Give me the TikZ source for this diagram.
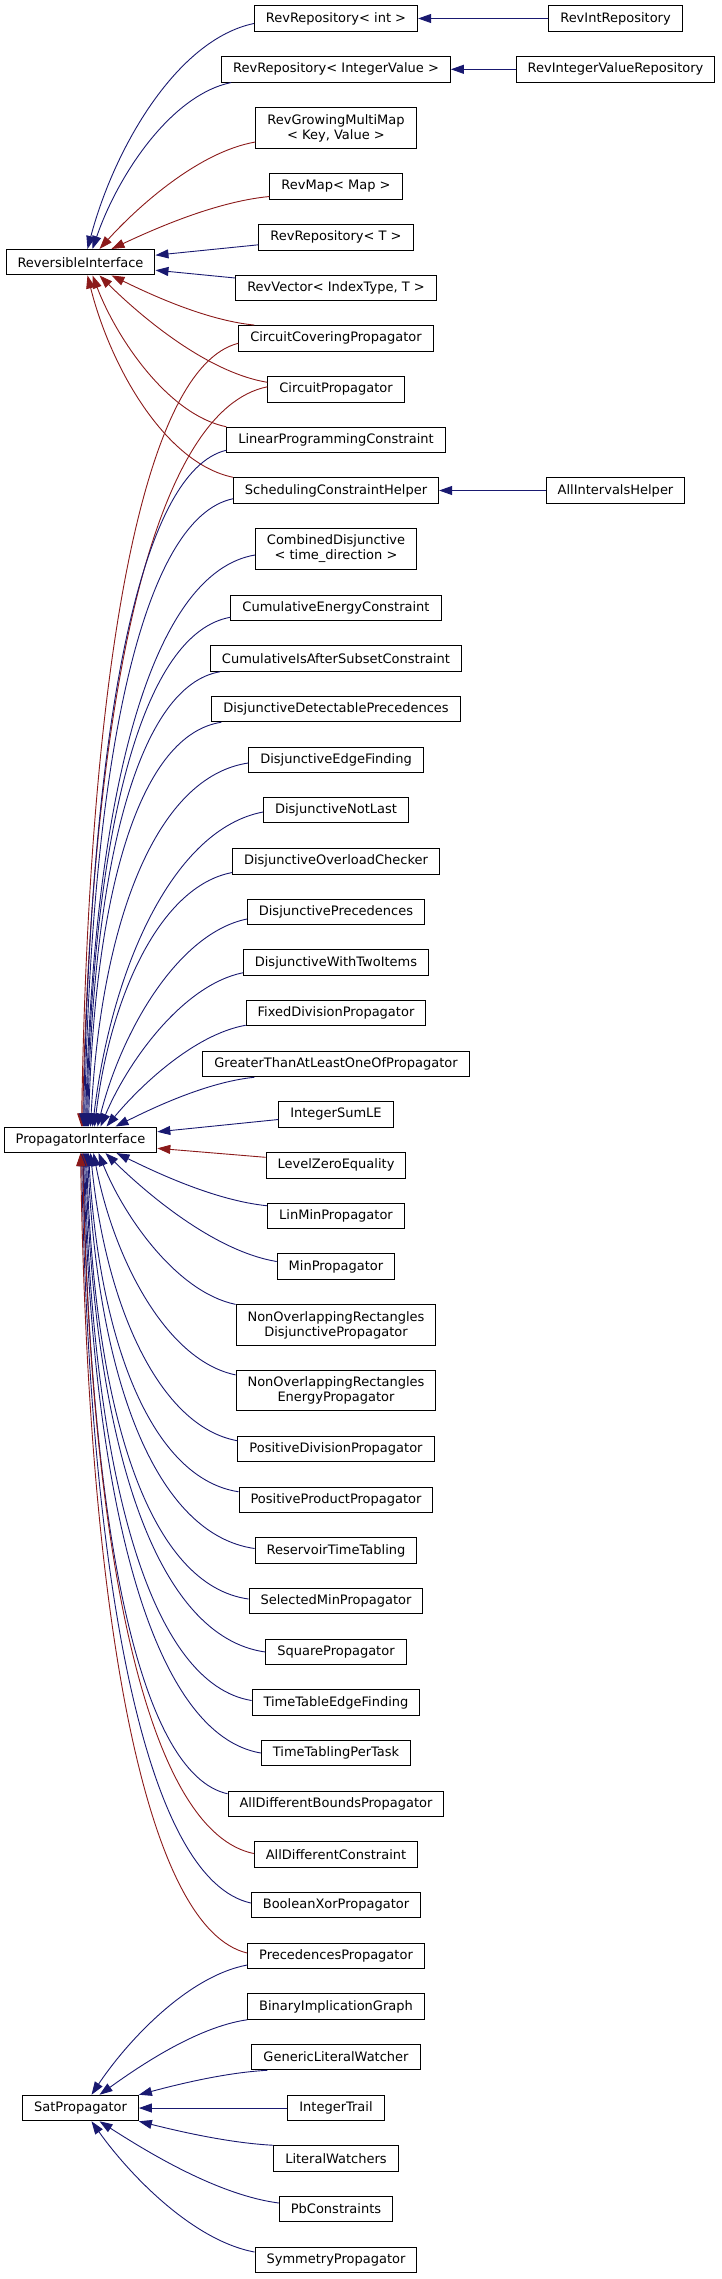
\documentclass[tikz,border=0pt]{standalone}
\usepackage{fontspec}
\setmainfont{DejaVu Sans}
\usetikzlibrary{calc,arrows.meta}
\definecolor{dxblue}{HTML}{191970}
\definecolor{dxred}{HTML}{8B1A1A}
\newcommand\ihe[3]{\draw[#1] let \p1=#2, \p2=#3,
  \n1={max(0,min(1,(abs(\y1-\y2)/(\x1-\x2)-0.5)/2))} in
  (\p1) .. controls ({\x1-(0.35+0.25*\n1)*(\x1-\x2)},{\y1-(0.1-0.07*\n1)*(\y1-\y2)})
  and ({\x2+(0.25-0.2*\n1)*(\x1-\x2)},{\y2+(0.35+0.25*\n1)*(\y1-\y2)}) .. (\p2);}
\begin{document}
\begin{tikzpicture}[x=1pt,y=1pt,
  cls/.style={draw=black, fill=white, line width=1pt, inner xsep=11.5pt, inner ysep=0pt,
    minimum height=25.5pt, font=\fontsize{13}{15}\selectfont, align=center},
  cls2/.style={cls, minimum height=40.3pt},
  inhpub/.style={draw=dxblue, line width=0.9pt, -{Triangle[length=13pt,width=9pt]}},
  inhprot/.style={draw=dxred, line width=0.9pt, -{Triangle[length=13pt,width=9pt]}}]
\useasboundingbox (0,0) rectangle (721,-2279);
% column 1
\node[cls] (ri) at (80.5,-262.2) {ReversibleInterface};
\node[cls] (pi) at (80.5,-1139.8) {PropagatorInterface};
\node[cls] (sat) at (80.5,-2108) {SatPropagator};
% column 2
\node[cls] (r1) at (336,-18.5) {RevRepository< int >};
\node[cls] (r2) at (336,-69.3) {RevRepository< IntegerValue >};
\node[cls2] (r3) at (336,-128) {RevGrowingMultiMap\\< Key, Value >};
\node[cls] (r4) at (336,-186.5) {RevMap< Map >};
\node[cls] (r5) at (336,-237.3) {RevRepository< T >};
\node[cls] (r6) at (336,-288) {RevVector< IndexType, T >};
\node[cls] (r7) at (336,-338.3) {CircuitCoveringPropagator};
\node[cls] (r8) at (336,-389.3) {CircuitPropagator};
\node[cls] (r9) at (336,-440) {LinearProgrammingConstraint};
\node[cls] (r10) at (336,-490.5) {SchedulingConstraintHelper};
\node[cls2] (r11) at (336,-549) {CombinedDisjunctive\\< time\_direction >};
\node[cls] (r12) at (336,-608) {CumulativeEnergyConstraint};
\node[cls] (r13) at (336,-658.5) {CumulativeIsAfterSubsetConstraint};
\node[cls] (r14) at (336,-709) {DisjunctiveDetectablePrecedences};
\node[cls] (r15) at (336,-760) {DisjunctiveEdgeFinding};
\node[cls] (r16) at (336,-810) {DisjunctiveNotLast};
\node[cls] (r17) at (336,-861.3) {DisjunctiveOverloadChecker};
\node[cls] (r18) at (336,-912) {DisjunctivePrecedences};
\node[cls] (r19) at (336,-962.5) {DisjunctiveWithTwoItems};
\node[cls] (r20) at (336,-1013) {FixedDivisionPropagator};
\node[cls] (r21) at (336,-1064) {GreaterThanAtLeastOneOfPropagator};
\node[cls] (r22) at (336,-1114.5) {IntegerSumLE};
\node[cls] (r23) at (336,-1165.3) {LevelZeroEquality};
\node[cls] (r24) at (336,-1216) {LinMinPropagator};
\node[cls] (r25) at (336,-1266.5) {MinPropagator};
\node[cls2] (r26) at (336,-1325) {NonOverlappingRectangles\\DisjunctivePropagator};
\node[cls2] (r27) at (336,-1390.5) {NonOverlappingRectangles\\EnergyPropagator};
\node[cls] (r28) at (336,-1449) {PositiveDivisionPropagator};
\node[cls] (r29) at (336,-1500) {PositiveProductPropagator};
\node[cls] (r30) at (336,-1550.5) {ReservoirTimeTabling};
\node[cls] (r31) at (336,-1601) {SelectedMinPropagator};
\node[cls] (r32) at (336,-1652) {SquarePropagator};
\node[cls] (r33) at (336,-1702.5) {TimeTableEdgeFinding};
\node[cls] (r34) at (336,-1753) {TimeTablingPerTask};
\node[cls] (r35) at (336,-1804) {AllDifferentBoundsPropagator};
\node[cls] (r36) at (336,-1854.5) {AllDifferentConstraint};
\node[cls] (r37) at (336,-1905) {BooleanXorPropagator};
\node[cls] (r38) at (336,-1956) {PrecedencesPropagator};
\node[cls] (r39) at (336,-2006.5) {BinaryImplicationGraph};
\node[cls] (r40) at (336,-2057) {GenericLiteralWatcher};
\node[cls] (r41) at (336,-2108) {IntegerTrail};
\node[cls] (r42) at (336,-2158.5) {LiteralWatchers};
\node[cls] (r43) at (336,-2209) {PbConstraints};
\node[cls] (r44) at (336,-2260) {SymmetryPropagator};
% column 3
\node[cls] (rir) at (615.5,-18.5) {RevIntRepository};
\node[cls] (rivr) at (615.5,-69.3) {RevIntegerValueRepository};
\node[cls] (aih) at (615.5,-490.5) {AllIntervalsHelper};
% column 3 -> column 2
\draw[inhpub] (rir.west) -- (r1.east);
\draw[inhpub] (rivr.west) -- (r2.east);
\draw[inhpub] (aih.west) -- (r10.east);
% -> ReversibleInterface
\ihe{inhpub}{([yshift=-5pt]r1.west)}{([xshift=7pt]ri.north)}
\ihe{inhpub}{([xshift=10pt]r2.south west)}{([xshift=12pt]ri.north)}
\ihe{inhprot}{([yshift=-14pt]r3.west)}{([xshift=19pt]ri.north)}
\ihe{inhprot}{([yshift=-10pt]r4.west)}{([xshift=31pt]ri.north)}
\draw[inhpub] ([yshift=-7.5pt]r5.west) -- ([yshift=7pt]ri.east);
\draw[inhpub] ([yshift=10pt]r6.west) -- ([yshift=-8pt]ri.east);
\ihe{inhprot}{([xshift=16pt]r7.north west)}{([xshift=31pt]ri.south)}
\ihe{inhprot}{([yshift=7pt]r8.west)}{([xshift=19pt]ri.south)}
\ihe{inhprot}{(r9.north west)}{([xshift=12pt]ri.south)}
\ihe{inhprot}{(r10.north west)}{([xshift=7pt]ri.south)}
% -> PropagatorInterface (from above)
\ihe{inhprot}{([yshift=-5pt]r7.west)}{([xshift=1pt]pi.north)}
\ihe{inhprot}{([yshift=2.5pt]r8.west)}{([xshift=2pt]pi.north)}
\ihe{inhpub}{([yshift=3pt]r9.south west)}{([xshift=3pt]pi.north)}
\ihe{inhpub}{([yshift=5pt]r10.south west)}{([xshift=4pt]pi.north)}
\ihe{inhpub}{([yshift=-6pt]r11.west)}{([xshift=5pt]pi.north)}
\ihe{inhpub}{([yshift=4pt]r12.south west)}{([xshift=6pt]pi.north)}
\ihe{inhpub}{([xshift=10pt]r13.south west)}{([xshift=7pt]pi.north)}
\ihe{inhpub}{([xshift=10pt]r14.south west)}{([xshift=8pt]pi.north)}
\ihe{inhpub}{([yshift=-3pt]r15.west)}{([xshift=10pt]pi.north)}
\ihe{inhpub}{([yshift=-2pt]r16.west)}{([xshift=12pt]pi.north)}
\ihe{inhpub}{([yshift=2pt]r17.south west)}{([xshift=14pt]pi.north)}
\ihe{inhpub}{([yshift=-7pt]r18.west)}{([xshift=17pt]pi.north)}
\ihe{inhpub}{([yshift=3pt]r19.south west)}{([xshift=20pt]pi.north)}
\ihe{inhpub}{([yshift=1pt]r20.south west)}{([xshift=26pt]pi.north)}
\ihe{inhpub}{([xshift=52pt]r21.south west)}{([xshift=35pt]pi.north)}
\draw[inhpub] ([yshift=-5pt]r22.west) -- ([yshift=8pt]pi.east);
\draw[inhprot] ([yshift=8pt]r23.west) -- ([yshift=-8.5pt]pi.east);
% -> PropagatorInterface (from below)
\ihe{inhpub}{([yshift=-3pt]r24.north west)}{([xshift=36pt]pi.south)}
\ihe{inhpub}{([yshift=5pt]r25.west)}{([xshift=25pt]pi.south)}
\ihe{inhpub}{(r26.north west)}{([xshift=18pt]pi.south)}
\ihe{inhpub}{([yshift=-5pt]r27.north west)}{([xshift=13pt]pi.south)}
\ihe{inhpub}{([yshift=-5pt]r28.north west)}{([xshift=10pt]pi.south)}
\ihe{inhpub}{([yshift=-5pt]r29.north west)}{([xshift=8pt]pi.south)}
\ihe{inhpub}{([yshift=2pt]r30.west)}{([xshift=7pt]pi.south)}
\ihe{inhpub}{([yshift=2pt]r31.west)}{([xshift=6pt]pi.south)}
\ihe{inhpub}{(r32.west)}{([xshift=5pt]pi.south)}
\ihe{inhpub}{([yshift=2pt]r33.west)}{([xshift=4pt]pi.south)}
\ihe{inhpub}{(r34.west)}{([xshift=3pt]pi.south)}
\ihe{inhpub}{([yshift=-3pt]r35.north west)}{([xshift=2.5pt]pi.south)}
\ihe{inhprot}{([yshift=1pt]r36.west)}{([xshift=2pt]pi.south)}
\ihe{inhpub}{([yshift=2pt]r37.west)}{([xshift=1pt]pi.south)}
\ihe{inhprot}{([yshift=3pt]r38.west)}{(pi.south)}
% -> SatPropagator
\ihe{inhpub}{([yshift=-9pt]r38.west)}{([xshift=11pt]sat.north)}
\ihe{inhpub}{(r39.south west)}{([xshift=19pt]sat.north)}
\ihe{inhpub}{([xshift=16pt]r40.south west)}{(sat.north east)}
\draw[inhpub] (r41.west) -- (sat.east);
\ihe{inhpub}{(r42.north west)}{(sat.south east)}
\ihe{inhpub}{([yshift=6pt]r43.west)}{([xshift=19pt]sat.south)}
\ihe{inhpub}{([yshift=8pt]r44.west)}{([xshift=11pt]sat.south)}
\end{tikzpicture}
\end{document}
